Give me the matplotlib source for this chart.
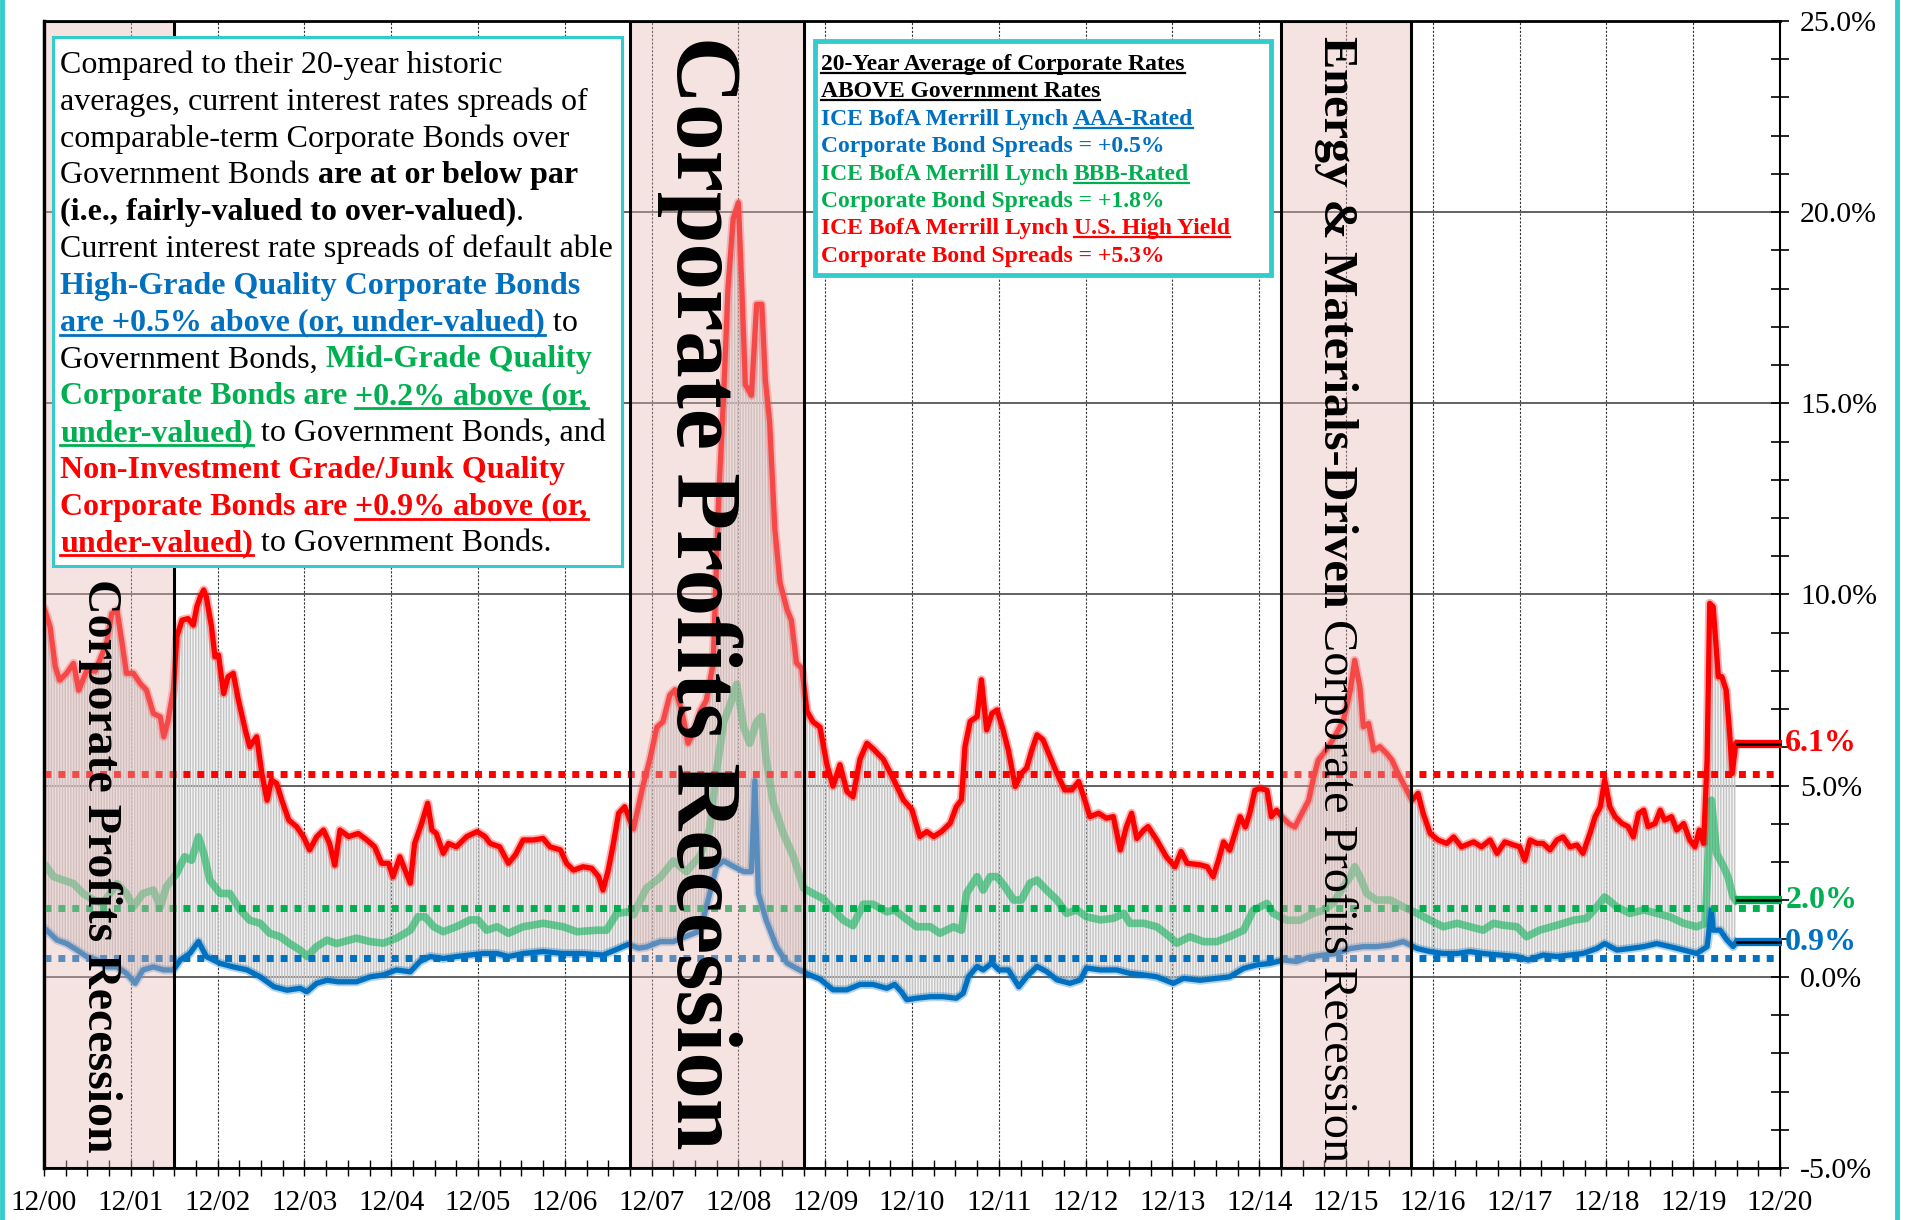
"""
Corporate bond spreads over government bonds, 12/00 - 12/20,
with recession shading and two annotation boxes.
"""

import matplotlib
matplotlib.use("Agg")
import numpy as np
import matplotlib.pyplot as plt
from matplotlib.patches import Rectangle
from matplotlib.lines import Line2D

plt.rcParams["font.family"] = ["Liberation Serif", "DejaVu Serif"]
plt.rcParams["hatch.linewidth"] = 1.0
plt.rcParams["axes.unicode_minus"] = False

# ---------- data: t = years after Dec 2000, v = spread in % ----------
red_t = [0.01, 0.07, 0.13, 0.18, 0.26, 0.34, 0.40, 0.49, 0.59, 0.72, 0.78, 0.84, 0.90, 0.95,
         1.03, 1.11, 1.18, 1.26, 1.34, 1.38, 1.43, 1.49, 1.53, 1.59, 1.66, 1.72, 1.76, 1.80,
         1.84, 1.87, 1.93, 1.97, 2.01, 2.07, 2.12, 2.18, 2.24, 2.32, 2.37, 2.45, 2.51, 2.57,
         2.62, 2.68, 2.74, 2.82, 2.91, 2.99, 3.06, 3.14, 3.22, 3.29, 3.35, 3.41, 3.51, 3.62,
         3.72, 3.81, 3.89, 3.97, 4.02, 4.10, 4.16, 4.22, 4.27, 4.35, 4.42, 4.47, 4.52, 4.60,
         4.66, 4.75, 4.87, 4.99, 5.08, 5.14, 5.25, 5.35, 5.43, 5.52, 5.64, 5.75, 5.83, 5.95,
         6.02, 6.10, 6.21, 6.31, 6.39, 6.44, 6.50, 6.56, 6.62, 6.69, 6.75, 6.79, 6.90, 6.98,
         7.06, 7.13, 7.21, 7.27, 7.35, 7.42, 7.48, 7.56, 7.63, 7.71, 7.77, 7.83, 7.88, 7.94,
         8.00, 8.04, 8.08, 8.15, 8.21, 8.27, 8.31, 8.36, 8.42, 8.48, 8.56, 8.61, 8.67, 8.73,
         8.79, 8.86, 8.94, 9.02, 9.09, 9.17, 9.25, 9.32, 9.40, 9.48, 9.55, 9.67, 9.78, 9.90,
         10.00, 10.09, 10.17, 10.25, 10.34, 10.44, 10.51, 10.57, 10.61, 10.67, 10.75, 10.80,
         10.86, 10.92, 10.98, 11.05, 11.11, 11.19, 11.26, 11.32, 11.38, 11.44, 11.51, 11.59,
         11.67, 11.76, 11.84, 11.92, 11.99, 12.05, 12.15, 12.24, 12.32, 12.40, 12.47, 12.53,
         12.59, 12.67, 12.72, 12.82, 12.93, 13.03, 13.10, 13.17, 13.32, 13.40, 13.47, 13.53,
         13.59, 13.66, 13.72, 13.78, 13.84, 13.89, 13.95, 14.01, 14.09, 14.14, 14.20, 14.26,
         14.34, 14.41, 14.49, 14.57, 14.62, 14.68, 14.74, 14.82, 14.89, 14.97, 15.05, 15.10,
         15.16, 15.20, 15.26, 15.32, 15.39, 15.47, 15.53, 15.60, 15.68, 15.76, 15.83, 15.89,
         15.97, 16.06, 16.16, 16.24, 16.33, 16.47, 16.56, 16.66, 16.74, 16.83, 16.93, 17.00,
         17.06, 17.12, 17.20, 17.27, 17.35, 17.43, 17.50, 17.58, 17.66, 17.73, 17.81, 17.87,
         17.93, 17.98, 18.04, 18.10, 18.18, 18.25, 18.31, 18.37, 18.43, 18.48, 18.56, 18.62,
         18.67, 18.75, 18.81, 18.89, 18.96, 19.02, 19.07, 19.12, 19.16, 19.19, 19.23, 19.29,
         19.33, 19.38, 19.42, 19.45, 19.49]
red_v = [9.59, 9.16, 8.11, 7.76, 7.94, 8.20, 7.50, 8.00, 8.00, 8.72, 9.50, 9.60, 8.72, 7.94,
         7.94, 7.67, 7.50, 6.89, 6.80, 6.28, 6.71, 7.50, 8.90, 9.33, 9.37, 9.20, 9.68, 9.94,
         10.12, 9.94, 9.16, 8.37, 8.42, 7.41, 7.85, 7.94, 7.24, 6.45, 6.02, 6.28, 5.32, 4.62,
         5.15, 5.06, 4.62, 4.10, 3.93, 3.66, 3.32, 3.66, 3.84, 3.49, 2.92, 3.84, 3.67, 3.75,
         3.58, 3.40, 2.97, 2.97, 2.62, 3.14, 2.79, 2.45, 3.49, 4.01, 4.54, 3.84, 3.75, 3.23,
         3.49, 3.40, 3.67, 3.80, 3.67, 3.49, 3.40, 2.97, 3.19, 3.58, 3.58, 3.62, 3.40, 3.32,
         2.97, 2.79, 2.88, 2.84, 2.62, 2.27, 2.79, 3.49, 4.28, 4.45, 4.10, 3.87, 4.99, 5.69,
         6.53, 6.67, 7.37, 7.51, 6.95, 6.11, 6.39, 6.95, 7.23, 8.21, 12.41, 15.21, 18.01, 19.83,
         20.25, 18.01, 15.49, 15.21, 17.59, 17.59, 15.63, 14.51, 11.71, 10.31, 9.61, 9.33, 8.21, 8.07,
         6.95, 6.67, 6.53, 5.55, 4.99, 5.55, 4.85, 4.71, 5.69, 6.11, 5.97, 5.69, 5.20, 4.63,
         4.37, 3.67, 3.80, 3.67, 3.80, 4.02, 4.45, 4.63, 6.02, 6.68, 6.81, 7.77,
         6.46, 6.89, 6.98, 6.46, 5.93, 4.98, 5.32, 5.46, 5.93, 6.33, 6.20, 5.76,
         5.32, 4.89, 4.89, 5.11, 4.63, 4.19, 4.28, 4.15, 4.19, 3.32, 3.93, 4.28,
         3.62, 3.84, 3.93, 3.58, 3.14, 2.88, 3.28, 2.97, 2.93, 2.88, 2.62, 3.05,
         3.53, 3.31, 3.75, 4.19, 3.92, 4.27, 4.88, 4.93, 4.88, 4.19, 4.36, 4.19,
         4.01, 3.92, 4.27, 4.62, 5.15, 5.67, 5.84, 6.10, 6.37, 6.71, 7.50, 8.28,
         7.59, 6.54, 6.63, 5.93, 6.02, 5.84, 5.67, 5.32, 4.97, 4.62, 4.80, 4.27,
         3.75, 3.58, 3.49, 3.66, 3.40, 3.53, 3.40, 3.58, 3.23, 3.53, 3.45, 3.40,
         3.05, 3.58, 3.49, 3.49, 3.32, 3.58, 3.66, 3.40, 3.45, 3.23, 3.75, 4.19,
         4.45, 5.15, 4.45, 4.19, 4.01, 3.93, 3.66, 4.27, 4.36, 3.93, 4.01, 4.36,
         4.10, 4.19, 3.84, 4.01, 3.58, 3.40, 3.84, 3.49, 5.67, 9.77, 9.68, 7.85,
         7.85, 7.50, 6.37, 5.32, 6.10]

green_t = [0.03, 0.11, 0.22, 0.34, 0.45, 0.57, 0.68, 0.84, 0.95, 1.03, 1.14, 1.26, 1.34, 1.41,
           1.53, 1.62, 1.70, 1.78, 1.84, 1.91, 2.03, 2.14, 2.26, 2.37, 2.49, 2.60, 2.72, 2.83,
           2.95, 3.03, 3.14, 3.26, 3.37, 3.45, 3.60, 3.76, 3.91, 4.06, 4.22, 4.31, 4.39, 4.49,
           4.60, 4.75, 4.91, 5.00, 5.10, 5.22, 5.35, 5.52, 5.75, 5.98, 6.14, 6.37, 6.48, 6.60,
           6.73, 6.79, 6.94, 7.10, 7.25, 7.40, 7.56, 7.67, 7.75, 7.83, 7.90, 7.98, 8.06, 8.13,
           8.21, 8.27, 8.32, 8.40, 8.52, 8.63, 8.75, 8.86, 8.98, 9.09, 9.21, 9.32, 9.44, 9.55,
           9.71, 9.80, 9.90, 10.05, 10.21, 10.32, 10.48, 10.57, 10.63, 10.75, 10.82, 10.90,
           10.98, 11.07, 11.17, 11.26, 11.36, 11.44, 11.55, 11.67, 11.78, 11.90, 12.01, 12.17,
           12.32, 12.44, 12.51, 12.67, 12.82, 12.97, 13.05, 13.20, 13.36, 13.51, 13.66, 13.82,
           13.93, 14.01, 14.09, 14.16, 14.32, 14.47, 14.62, 14.74, 14.85, 14.97, 15.05, 15.10,
           15.16, 15.24, 15.35, 15.51, 15.66, 15.82, 15.97, 16.12, 16.28, 16.43, 16.58, 16.70,
           16.81, 16.97, 17.08, 17.23, 17.43, 17.62, 17.77, 17.89, 17.98, 18.12, 18.27, 18.43,
           18.58, 18.73, 18.89, 19.04, 19.14, 19.17, 19.21, 19.27, 19.35, 19.40, 19.46, 19.49]
green_v = [2.88, 2.62, 2.53, 2.44, 2.18, 2.01, 1.92, 2.44, 2.18, 1.83, 2.18, 2.27, 1.83, 2.36,
           2.71, 3.14, 3.05, 3.66, 3.23, 2.53, 2.18, 2.18, 1.75, 1.48, 1.40, 1.14, 1.05, 0.87,
           0.70, 0.53, 0.79, 0.96, 0.87, 0.92, 1.01, 0.92, 0.88, 1.01, 1.22, 1.57, 1.57, 1.31,
           1.18, 1.31, 1.49, 1.49, 1.22, 1.31, 1.14, 1.31, 1.40, 1.31, 1.18, 1.22, 1.22, 1.66,
           1.70, 1.62, 2.32, 2.60, 3.03, 2.75, 3.17, 3.87, 5.41, 6.67, 7.09, 7.65, 6.53, 6.11,
           6.67, 6.81, 5.69, 4.57, 3.73, 3.17, 2.32, 2.18, 2.04, 1.76, 1.48, 1.34, 1.90, 1.90,
           1.70, 1.75, 1.57, 1.31, 1.31, 1.14, 1.31, 1.22, 2.19, 2.62, 2.27, 2.62,
           2.62, 2.36, 2.01, 2.01, 2.45, 2.53, 2.27, 2.01, 1.66, 1.75, 1.57, 1.49,
           1.53, 1.66, 1.40, 1.40, 1.31, 1.05, 0.88, 1.05, 0.92, 0.92, 1.05, 1.22,
           1.74, 1.83, 1.92, 1.66, 1.48, 1.48, 1.66, 1.74, 1.92, 2.36, 2.62, 2.88,
           2.62, 2.18, 2.01, 2.01, 1.83, 1.66, 1.48, 1.31, 1.40, 1.31, 1.22, 1.40,
           1.35, 1.31, 1.05, 1.22, 1.35, 1.48, 1.53, 1.83, 2.09, 1.83, 1.66, 1.75,
           1.66, 1.57, 1.40, 1.31, 1.40, 3.05, 4.62, 3.23, 2.88, 2.62, 2.09, 2.00]

blue_t = [0.03, 0.15, 0.26, 0.38, 0.49, 0.61, 0.72, 0.84, 0.95, 1.05, 1.14, 1.26, 1.38, 1.49,
          1.57, 1.68, 1.78, 1.87, 2.03, 2.18, 2.34, 2.49, 2.65, 2.80, 2.95, 3.03, 3.14, 3.26,
          3.39, 3.60, 3.76, 3.91, 4.06, 4.22, 4.33, 4.45, 4.60, 4.75, 4.91, 5.06, 5.22, 5.35,
          5.52, 5.75, 5.98, 6.21, 6.44, 6.60, 6.73, 6.85, 6.94, 7.10, 7.25, 7.40, 7.56, 7.67,
          7.75, 7.83, 7.94, 8.06, 8.15, 8.19, 8.23, 8.32, 8.44, 8.56, 8.67, 8.79, 8.94, 9.09,
          9.25, 9.40, 9.55, 9.71, 9.80, 9.88, 9.94, 10.05, 10.21, 10.36, 10.51, 10.59, 10.65,
          10.75, 10.82, 10.92, 11.00, 11.11, 11.23, 11.32, 11.44, 11.55, 11.67, 11.82, 11.94,
          12.01, 12.17, 12.36, 12.51, 12.67, 12.82, 13.01, 13.13, 13.32, 13.51, 13.66, 13.82,
          13.97, 14.12, 14.28, 14.43, 14.59, 14.74, 14.89, 15.05, 15.20, 15.35, 15.51, 15.66,
          15.82, 15.97, 16.12, 16.28, 16.43, 16.58, 16.78, 16.97, 17.10, 17.27, 17.43, 17.58,
          17.73, 17.89, 17.98, 18.12, 18.27, 18.43, 18.58, 18.73, 18.89, 19.04, 19.16, 19.21,
          19.23, 19.31, 19.39, 19.46, 19.49]
blue_v = [1.22, 0.96, 0.87, 0.70, 0.53, 0.44, 0.26, 0.26, 0.09, -0.17, 0.18, 0.26, 0.18, 0.18,
          0.44, 0.61, 0.92, 0.53, 0.35, 0.26, 0.18, 0.00, -0.26, -0.35, -0.30, -0.39, -0.17, -0.09,
          -0.13, -0.13, 0.00, 0.05, 0.18, 0.13, 0.40, 0.53, 0.48, 0.53, 0.57, 0.61, 0.61, 0.53,
          0.61, 0.66, 0.61, 0.61, 0.57, 0.72, 0.85, 0.75, 0.78, 0.92, 0.92, 1.06, 1.20, 2.18,
          2.89, 3.03, 2.89, 2.75, 2.75, 5.13, 2.18, 1.48, 0.78, 0.36, 0.22, 0.08, -0.06, -0.34,
          -0.34, -0.20, -0.20, -0.30, -0.20, -0.40, -0.60, -0.56, -0.52, -0.52, -0.56, -0.43, 0.00,
          0.27, 0.18, 0.36, 0.18, 0.18, -0.26, 0.00, 0.27, 0.14, -0.08, -0.17, -0.08,
          0.23, 0.18, 0.18, 0.09, 0.05, 0.00, -0.17, -0.04, -0.09, -0.04, 0.00, 0.22,
          0.31, 0.35, 0.44, 0.40, 0.52, 0.57, 0.61, 0.74, 0.79, 0.79, 0.83, 0.92,
          0.74, 0.66, 0.61, 0.61, 0.66, 0.61, 0.57, 0.53, 0.44, 0.57, 0.53, 0.57,
          0.61, 0.74, 0.87, 0.70, 0.74, 0.79, 0.87, 0.79, 0.70, 0.61, 0.79, 1.75,
          1.22, 1.22, 0.96, 0.79, 0.90]

avg_vals = [0.5, 1.8, 5.3]          # 20-year averages: AAA, BBB, High Yield
current_vals = [0.9, 2.0, 6.1]      # latest readings: AAA, BBB, High Yield
rec_start = [0.0, 6.75, 14.25]
rec_end = [1.5, 8.75, 15.75]
x_labels = [f"12/{y:02d}" for y in range(0, 21)]
y_ticks = [-5, 0, 5, 10, 15, 20, 25]
y_labels = ["-5.0%", "0.0%", "5.0%", "10.0%", "15.0%", "20.0%", "25.0%"]

BLUE, GREEN, RED = "#0070C0", "#00B050", "#FF0000"
CYAN = "#33CCCC"
PINK = (230 / 255, 185 / 255, 184 / 255, 0.4)
series_colors = [BLUE, GREEN, RED]

W, H = 1908, 1220
fig = plt.figure(figsize=(W / 100, H / 100), dpi=100)
ax = fig.add_axes([44 / W, 1 - 1168 / H, (1780 - 44) / W, (1168 - 21) / H])
ax.set_xlim(0, 20)
ax.set_ylim(-5, 25)
renderer = fig.canvas.get_renderer()


def text_w(s, size, weight):
    """advance width in pixels, trailing/leading spaces included"""
    a = fig.text(0, 0, "x" + s + "x", fontsize=size, fontweight=weight)
    b = fig.text(0, 0, "xx", fontsize=size, fontweight=weight)
    w = a.get_window_extent(renderer).width - b.get_window_extent(renderer).width
    a.remove()
    b.remove()
    return w


# grid
ax.set_xticks(np.arange(0, 21, 1))
ax.set_xticks(np.arange(0, 20.01, 0.25), minor=True)
ax.set_xticklabels(x_labels)
ax.set_yticks(y_ticks)
ax.set_yticks(np.arange(-5, 25.01, 1), minor=True)
ax.set_yticklabels(y_labels)
ax.yaxis.tick_right()
ax.xaxis.grid(True, which="major", linestyle=(0, (2, 1.5)), color="#333333", lw=0.8)
ax.yaxis.grid(True, which="major", linestyle="-", color="#555555", lw=1.3)
ax.set_axisbelow(True)
ax.tick_params(axis="x", which="both", direction="inout", length=12, width=1,
               labelsize=21, pad=10)
ax.tick_params(axis="y", which="both", direction="inout", length=13, width=1.2,
               labelsize=21.5, pad=8, right=True, left=False)
for sp in ax.spines.values():
    sp.set_color("black")
ax.spines["left"].set_linewidth(2.5)
ax.spines["top"].set_linewidth(2)
ax.spines["bottom"].set_linewidth(2)
ax.spines["right"].set_linewidth(1.5)

# gray hatching between High Yield and AAA
poly_t = np.concatenate([red_t, blue_t[::-1]])
poly_v = np.concatenate([red_v, blue_v[::-1]])
ax.fill(poly_t, poly_v, facecolor=(0.86, 0.86, 0.86, 0.35), edgecolor="#c4c4c4",
        hatch="||||||", linewidth=0, zorder=1)

ax.plot(green_t, green_v, color=GREEN, lw=5.5, alpha=0.55, zorder=3)
for t, v, c in [(blue_t, blue_v, BLUE), (red_t, red_v, RED)]:
    ax.plot(t, v, color=c, lw=6.5, alpha=0.3, zorder=4, solid_joinstyle="round")
    ax.plot(t, v, color=c, lw=3.8, zorder=4, solid_joinstyle="round")

# 20-year average dotted lines
for val, c in zip(avg_vals, series_colors):
    ax.plot([0, 20], [val, val], color=c, lw=5, linestyle=(0, (1, 1)),
            dash_capstyle="butt", zorder=5)

# current value markers
for val, c in zip(current_vals, series_colors):
    ax.plot([19.48, 20.02], [val, val], color=c, lw=6, solid_capstyle="butt",
            zorder=5, clip_on=False)
    ax.plot([19.5, 20.0], [val, val], color="black", lw=1.8, zorder=5, clip_on=False)
    ax.text(20.06, val, f"{val:.1f}%", color=c, fontsize=23, fontweight="bold",
            va="center", ha="left", clip_on=False, zorder=6)

# recession shading
for s, e in zip(rec_start, rec_end):
    ax.add_patch(Rectangle((s, -5), e - s, 30, facecolor=PINK, edgecolor="black",
                           lw=2.2, zorder=6))

ax.text(0.507, 10.4, "Corporate Profits Recession", rotation=270, rotation_mode="anchor",
        ha="left", va="baseline", fontsize=34.5, fontweight="bold", zorder=7)
ax.text(7.29, 24.62, "Corporate Profits Recession", rotation=270, rotation_mode="anchor",
        ha="left", va="baseline", fontsize=67, fontweight="bold", zorder=7)
part1 = "Energy & Materials-Driven "
x3 = 14.75
ax.text(x3, 24.62, part1, rotation=270, rotation_mode="anchor",
        ha="left", va="baseline", fontsize=34.8, fontweight="bold", zorder=7)
px_per_pct = (1168 - 21) / 30
ax.text(x3, 24.62 - text_w(part1, 34.8, "bold") / px_per_pct, "Corporate Profits Recession",
        rotation=270, rotation_mode="anchor", ha="left", va="baseline", fontsize=34.8,
        zorder=7)


# ---------- annotation boxes ----------
def rich_line(x_px, y_px, segs, size, ul_off, ul_lw):
    x = x_px
    for s, c, bold, ul in segs:
        wt = "bold" if bold else "normal"
        fig.text(x / W, 1 - y_px / H, s, fontsize=size, color=c, fontweight=wt,
                 ha="left", va="baseline", zorder=12)
        if ul:
            wu = text_w(s.rstrip(), size, wt)
            fig.add_artist(Line2D([x / W, (x + wu) / W], [1 - (y_px + ul_off) / H] * 2,
                                  color=c, lw=ul_lw, zorder=12))
        x += text_w(s, size, wt)


K = "black"
box1_lines = [
    [("Compared to their 20-year historic", K, False, False)],
    [("averages, current interest rates spreads of", K, False, False)],
    [("comparable-term Corporate Bonds over", K, False, False)],
    [("Government Bonds ", K, False, False), ("are at or below par", K, True, False)],
    [("(i.e., fairly-valued to over-valued)", K, True, False), (".", K, False, False)],
    [("Current interest rate spreads of default able", K, False, False)],
    [("High-Grade Quality Corporate Bonds", BLUE, True, False)],
    [("are +0.5% above (or, under-valued)", BLUE, True, True), (" to", K, False, False)],
    [("Government Bonds, ", K, False, False), ("Mid-Grade Quality", GREEN, True, False)],
    [("Corporate Bonds are ", GREEN, True, False), ("+0.2% above (or,", GREEN, True, True)],
    [("under-valued)", GREEN, True, True), (" to Government Bonds, and", K, False, False)],
    [("Non-Investment Grade/Junk Quality", RED, True, False)],
    [("Corporate Bonds are ", RED, True, False), ("+0.9% above (or,", RED, True, True)],
    [("under-valued)", RED, True, True), (" to Government Bonds.", K, False, False)],
]
box2_lines = [
    [("20-Year Average of Corporate Rates", K, True, True)],
    [("ABOVE Government Rates", K, True, True)],
    [("ICE BofA Merrill Lynch ", BLUE, True, False), ("AAA-Rated", BLUE, True, True)],
    [("Corporate Bond Spreads = +0.5%", BLUE, True, False)],
    [("ICE BofA Merrill Lynch ", GREEN, True, False), ("BBB-Rated", GREEN, True, True)],
    [("Corporate Bond Spreads = +1.8%", GREEN, True, False)],
    [("ICE BofA Merrill Lynch ", RED, True, False), ("U.S. High Yield", RED, True, True)],
    [("Corporate Bond Spreads = +5.3%", RED, True, False)],
]

fig.add_artist(Rectangle((53 / W, 1 - 566 / H), (622 - 53) / W, (566 - 37) / H,
                         transform=fig.transFigure, facecolor="white", edgecolor=CYAN,
                         lw=2.2, zorder=11))
for i, segs in enumerate(box1_lines):
    rich_line(60, 73 + i * 36.8, segs, 23, 4, 2.0)

fig.add_artist(Rectangle((815 / W, 1 - 275 / H), (1271 - 815) / W, (275 - 41) / H,
                         transform=fig.transFigure, facecolor="white", edgecolor=CYAN,
                         lw=3.5, zorder=11))
for i, segs in enumerate(box2_lines):
    rich_line(821, 70 + i * 27.4, segs, 17, 3, 1.6)

# cyan page border
fig.add_artist(Rectangle((2 / W, -0.01), (1897 - 2) / W, 1.02, transform=fig.transFigure,
                         fill=False, edgecolor=CYAN, lw=3.5, zorder=20))

fig.savefig("out.png", dpi=100)
